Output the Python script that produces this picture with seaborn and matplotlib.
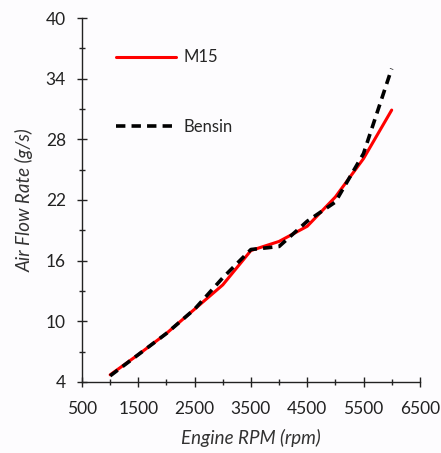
import matplotlib
matplotlib.use("Agg")
import matplotlib.pyplot as plt
import seaborn as sns
import pandas as pd

rpm = [1000, 1500, 2000, 2500, 3000, 3500, 4000, 4500, 5000, 5500, 6000]
m15 = [4.7, 6.7, 8.8, 11.2, 13.6, 17.0, 17.9, 19.4, 22.3, 26.1, 30.9]
bensin = [4.6, 6.7, 8.8, 11.2, 14.3, 17.1, 17.4, 19.9, 21.8, 26.6, 35.0]
series = ["M15", "Bensin"]
xticks = [500, 1500, 2500, 3500, 4500, 5500, 6500]
yticks = [4, 10, 16, 22, 28, 34, 40]

df = pd.concat([
    pd.DataFrame({"rpm": rpm, "flow": m15, "fuel": series[0]}),
    pd.DataFrame({"rpm": rpm, "flow": bensin, "fuel": series[1]}),
])

sns.set_style("ticks")
plt.rcParams['font.family'] = ['Lato', 'DejaVu Sans']
bg = "#fdfcfe"
fig = plt.figure(figsize=(4.41, 4.53), dpi=100, facecolor=bg)
ax = fig.add_axes([0.186, 0.157, 0.766, 0.803])
ax.set_facecolor(bg)

sns.lineplot(data=df, x="rpm", y="flow", hue="fuel", style="fuel",
             palette={"M15": "#ff0000", "Bensin": "#000000"},
             dashes={"M15": "", "Bensin": (2.6, 1.7)},
             linewidth=2.2, ax=ax, legend=True)
for line in ax.get_lines():
    if line.get_linestyle() != "-":
        line.set_linewidth(2.6)

ax.set_xlim(500, 6500)
ax.set_ylim(4, 40)
ax.set_xticks(xticks)
ax.set_xticks([x + 500 for x in xticks[:-1]], minor=True)
ax.set_yticks(yticks)
ax.set_yticks([y + 3 for y in yticks[:-1]], minor=True)
ax.tick_params(which="both", direction="inout", colors="#222222", labelsize=12.5)
ax.tick_params(which="major", length=7, width=1)
ax.tick_params(which="minor", length=4, width=1)
ax.tick_params(axis="x", which="major", pad=10)
ax.tick_params(axis="y", which="major", pad=8)
for s in ["top", "right"]:
    ax.spines[s].set_visible(False)
for s in ["left", "bottom"]:
    ax.spines[s].set_color("#222222")
    ax.spines[s].set_linewidth(1)

ax.set_xlabel("Engine RPM (rpm)", fontsize=13.5, style="italic", color="#333333", labelpad=9)
ax.set_ylabel("Air Flow Rate (g/s)", fontsize=13.5, style="italic", color="#333333", labelpad=9)

leg = ax.legend(loc="upper left", bbox_to_anchor=(0.055, 0.955), frameon=False,
                handlelength=3.6, labelspacing=3.2, handletextpad=0.5, fontsize=12)
for h in leg.get_lines():
    h.set_linewidth(2.2 if h.get_linestyle() == "-" else 2.6)

fig.savefig("out.png", dpi=100, facecolor=bg)
